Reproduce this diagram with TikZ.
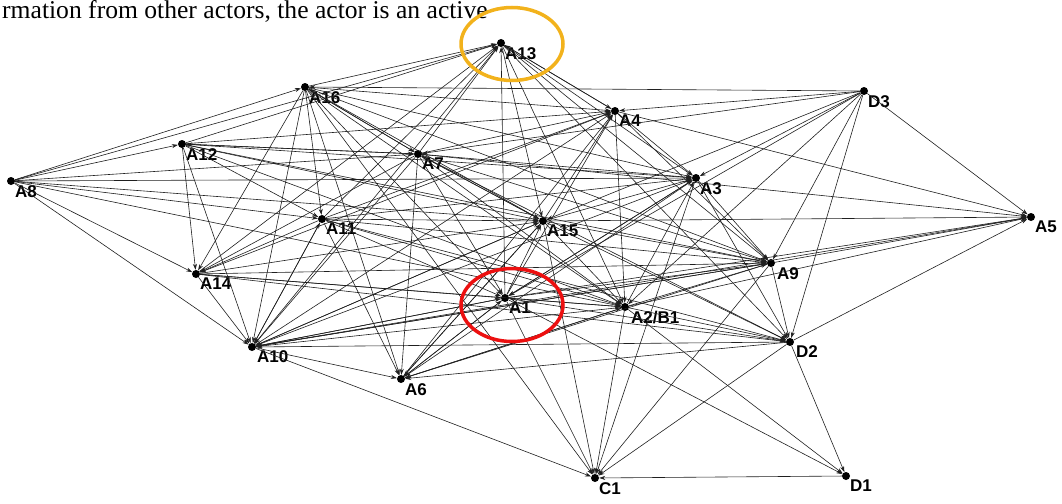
\documentclass[tikz,border=0pt]{standalone}
\usepackage{fontspec}
\setmainfont{Liberation Serif}
\setsansfont{Liberation Sans}
\usetikzlibrary{positioning}
\usetikzlibrary{arrows.meta}
\usetikzlibrary{shapes.geometric}
\definecolor{ringorange}{RGB}{242,178,28}
\definecolor{ringred}{RGB}{236,16,16}
\tikzstyle{actor} = [circle, fill=black, inner sep=0pt, minimum size=8pt]
\tikzstyle{actorlab} = [inner sep=0pt, font=\sffamily\bfseries\fontsize{17}{17}\selectfont]
\tikzstyle{tie} = [->, draw=black!88, line width=0.6pt]
\tikzstyle{ring} = [draw, ellipse, line width=3.5pt, minimum width=102pt, minimum height=73pt]

\begin{document}
\begin{tikzpicture}[x=1pt, y=-1pt, >={Stealth[length=6pt,width=4pt]}]
  \useasboundingbox (0,0) rectangle (1062,503);
  \node[anchor=base west, inner sep=0pt, font=\fontsize{25.6}{25.6}\selectfont] (intro) at (2,19) {rmation from other actors, the actor is an active};

  % actors
  \node[actor] (A13) at (501,43) {};
  \node[actor] (A16) at (305,87) {};
  \node[actor] (D3) at (864,91) {};
  \node[actor] (A4) at (615,111) {};
  \node[actor] (A12) at (182,144) {};
  \node[actor] (A7) at (418,154) {};
  \node[actor] (A8) at (11,181) {};
  \node[actor] (A3) at (696,178) {};
  \node[actor] (A11) at (322,219) {};
  \node[actor] (A15) at (543,221) {};
  \node[actor] (A5) at (1031,217) {};
  \node[actor] (A9) at (771,263) {};
  \node[actor] (A14) at (196,274) {};
  \node[actor] (A1) at (505,298) {};
  \node[actor] (A2) at (625,307) {};
  \node[actor] (A10) at (252,347) {};
  \node[actor] (D2) at (790,342) {};
  \node[actor] (A6) at (401,379) {};
  \node[actor] (C1) at (595,478) {};
  \node[actor] (D1) at (846,476) {};

  \node[actorlab, below right=1pt and 1pt of A13] (A13_l) {A13};
  \node[actorlab, below right=1pt and 1pt of A16] (A16_l) {A16};
  \node[actorlab, below right=1pt and 1pt of D3] (D3_l) {D3};
  \node[actorlab, below right=1pt and 1pt of A4] (A4_l) {A4};
  \node[actorlab, below right=1pt and 1pt of A12] (A12_l) {A12};
  \node[actorlab, below right=1pt and 1pt of A7] (A7_l) {A7};
  \node[actorlab, below right=1pt and 1pt of A8] (A8_l) {A8};
  \node[actorlab, below right=1pt and 1pt of A3] (A3_l) {A3};
  \node[actorlab, below right=1pt and 1pt of A11] (A11_l) {A11};
  \node[actorlab, below right=1pt and 1pt of A15] (A15_l) {A15};
  \node[actorlab, below right=1pt and 1pt of A5] (A5_l) {A5};
  \node[actorlab, below right=1pt and 3pt of A9] (A9_l) {A9};
  \node[actorlab, below right=1pt and 1pt of A14] (A14_l) {A14};
  \node[actorlab, below right=1pt and 1pt of A1] (A1_l) {A1};
  \node[actorlab, below right=1pt and 3pt of A2] (A2_l) {A2/B1};
  \node[actorlab, below right=0pt and 2pt of A10] (A10_l) {A10};
  \node[actorlab, below right=0pt and 3pt of D2] (D2_l) {D2};
  \node[actorlab, below right=1pt and 1pt of A6] (A6_l) {A6};
  \node[actorlab, below right=1pt and 1pt of C1] (C1_l) {C1};
  \node[actorlab, below right=1pt and 1pt of D1] (D1_l) {D1};

  % ties
  \draw[tie] (A8) -- (A16);
  \draw[tie] (A8) -- (A13);
  \draw[tie] (A8) -- (A12);
  \draw[tie] (A8) -- (A7);
  \draw[tie] (A8) -- (A3);
  \draw[tie] (A8) -- (A11);
  \draw[tie] (A8) -- (A15);
  \draw[tie] (A8) -- (A2);
  \draw[tie] (A8) -- (A14);
  \draw[tie] (A8) -- (A10);
  \draw[tie] (A16) -- (A13);
  \draw[tie] (A1) -- (A13);
  \draw[tie] (A13) -- (A4);
  \draw[tie] (A4) -- (A13);
  \draw[tie] (A13) -- (A3);
  \draw[tie] (A12) -- (A13);
  \draw[tie] (A14) -- (A13);
  \draw[tie] (A10) -- (A13);
  \draw[tie] (A13) -- (A15);
  \draw[tie] (A13) -- (A9);
  \draw[tie] (A13) -- (A2);
  \draw[tie] (A7) -- (A13);
  \draw[tie] (A11) -- (A13);
  \draw[tie] (A13) -- (D2);
  \draw[tie] (D3) -- (A16);
  \draw[tie] (D3) -- (A7);
  \draw[tie] (D3) -- (A4);
  \draw[tie] (D3) -- (A3);
  \draw[tie] (D3) -- (A15);
  \draw[tie] (D3) -- (A1);
  \draw[tie] (D3) -- (A2);
  \draw[tie] (D3) -- (A9);
  \draw[tie] (D3) -- (D2);
  \draw[tie] (D3) -- (A5);
  \draw[tie] (A16) -- (A4);
  \draw[tie] (A16) -- (A7);
  \draw[tie] (A7) -- (A16);
  \draw[tie] (A16) -- (A3);
  \draw[tie] (A16) -- (A9);
  \draw[tie] (A16) -- (A11);
  \draw[tie] (A16) -- (A14);
  \draw[tie] (A16) -- (A10);
  \draw[tie] (A16) -- (A6);
  \draw[tie] (A16) -- (A1);
  \draw[tie] (A16) -- (A2);
  \draw[tie] (A16) -- (A15);
  \draw[tie] (A16) -- (C1);
  \draw[tie] (A12) -- (A7);
  \draw[tie] (A7) -- (A12);
  \draw[tie] (A12) -- (A4);
  \draw[tie] (A12) -- (A3);
  \draw[tie] (A12) -- (A15);
  \draw[tie] (A12) -- (A9);
  \draw[tie] (A12) -- (A11);
  \draw[tie] (A12) -- (A14);
  \draw[tie] (A12) -- (A10);
  \draw[tie] (A12) -- (A2);
  \draw[tie] (A7) -- (A5);
  \draw[tie] (A7) -- (A15);
  \draw[tie] (A15) -- (A7);
  \draw[tie] (A7) -- (A1);
  \draw[tie] (A7) -- (A2);
  \draw[tie] (A7) -- (A9);
  \draw[tie] (A7) -- (A3);
  \draw[tie] (A7) -- (A4);
  \draw[tie] (A7) -- (A14);
  \draw[tie] (A7) -- (A10);
  \draw[tie] (A7) -- (A6);
  \draw[tie] (A7) -- (D2);
  \draw[tie] (A11) -- (A15);
  \draw[tie] (A11) -- (A4);
  \draw[tie] (A11) -- (A9);
  \draw[tie] (A11) -- (A2);
  \draw[tie] (A11) -- (A14);
  \draw[tie] (A11) -- (A10);
  \draw[tie] (A11) -- (A6);
  \draw[tie] (A11) -- (A1);
  \draw[tie] (A11) -- (D2);
  \draw[tie] (A11) -- (A3);
  \draw[tie] (A14) -- (A9);
  \draw[tie] (A14) -- (A1);
  \draw[tie] (A14) -- (A2);
  \draw[tie] (A14) -- (D2);
  \draw[tie] (A14) -- (A10);
  \draw[tie] (A14) -- (A15);
  \draw[tie] (A4) -- (A14);
  \draw[tie] (A15) -- (A4);
  \draw[tie] (A15) -- (A3);
  \draw[tie] (A15) -- (A5);
  \draw[tie] (A15) -- (A9);
  \draw[tie] (A15) -- (A2);
  \draw[tie] (A15) -- (D2);
  \draw[tie] (A15) -- (A6);
  \draw[tie] (A15) -- (A10);
  \draw[tie] (A15) -- (C1);
  \draw[tie] (A1) -- (A15);
  \draw[tie] (A1) -- (A4);
  \draw[tie] (A10) -- (A4);
  \draw[tie] (A6) -- (A4);
  \draw[tie] (A4) -- (A3);
  \draw[tie] (A4) -- (A9);
  \draw[tie] (A4) -- (A2);
  \draw[tie] (A4) -- (A5);
  \draw[tie] (A3) -- (A9);
  \draw[tie] (A1) -- (A3);
  \draw[tie] (A2) -- (A3);
  \draw[tie] (A10) -- (A3);
  \draw[tie] (A6) -- (A3);
  \draw[tie] (A3) -- (C1);
  \draw[tie] (A3) -- (D2);
  \draw[tie] (A3) -- (A1);
  \draw[tie] (A1) -- (A9);
  \draw[tie] (A2) -- (A9);
  \draw[tie] (A9) -- (A5);
  \draw[tie] (A9) -- (C1);
  \draw[tie] (A9) -- (D2);
  \draw[tie] (A9) -- (A10);
  \draw[tie] (A9) -- (A6);
  \draw[tie] (A1) -- (A5);
  \draw[tie] (A1) -- (A2);
  \draw[tie] (A1) -- (D1);
  \draw[tie] (A1) -- (C1);
  \draw[tie] (A1) -- (A6);
  \draw[tie] (A1) -- (A10);
  \draw[tie] (D2) -- (A1);
  \draw[tie] (A2) -- (A5);
  \draw[tie] (A2) -- (A6);
  \draw[tie] (A2) -- (C1);
  \draw[tie] (A2) -- (D1);
  \draw[tie] (A2) -- (A10);
  \draw[tie] (A2) -- (D2);
  \draw[tie] (D2) -- (A5);
  \draw[tie] (D2) -- (D1);
  \draw[tie] (D2) -- (C1);
  \draw[tie] (D2) -- (A6);
  \draw[tie] (D2) -- (A10);
  \draw[tie] (D1) -- (C1);
  \draw[tie] (A10) -- (A6);
  \draw[tie] (A10) -- (C1);
  \draw[tie] (A10) -- (A5);
  \draw[tie] (A10) -- (A15);
  \draw[tie] (A10) -- (A9);
  \draw[tie] (A10) -- (A1);
  \draw[tie] (A10) -- (A11);
  \draw[tie] (A6) -- (A1);
  \draw[tie] (A6) -- (A15);
  \draw[tie] (A6) -- (A2);

  % highlighted actors
  \node[ring, draw=ringorange] (A13_ring) at (512,44) {};
  \node[ring, draw=ringred] (A1_ring) at (512,305) {};
\end{tikzpicture}
\end{document}
